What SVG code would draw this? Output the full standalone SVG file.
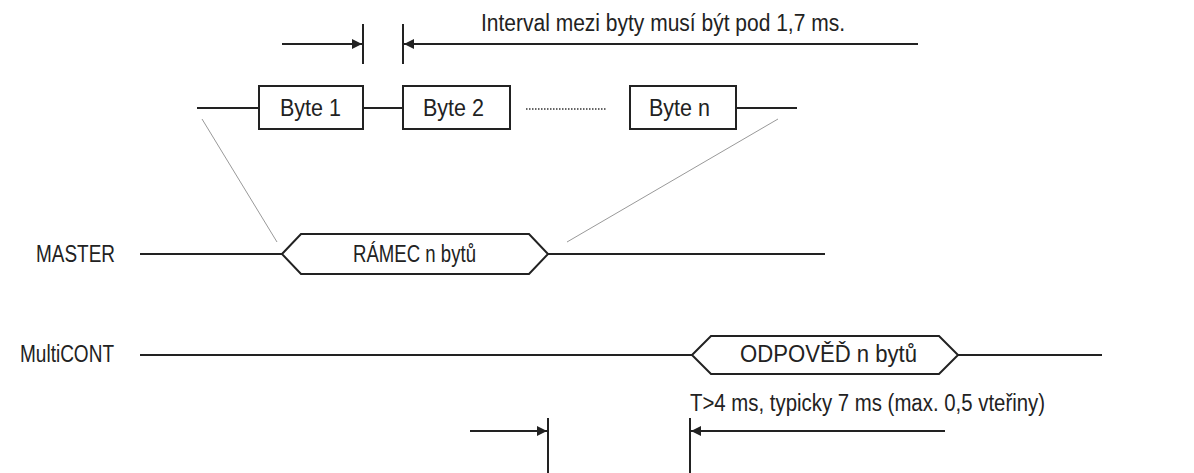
<svg xmlns="http://www.w3.org/2000/svg" width="1194" height="473" viewBox="0 0 1194 473">
<style>
.ln{stroke:#222;stroke-width:2;fill:none}
.box{stroke:#222;stroke-width:2;fill:#fff}
.thin{stroke:#999;stroke-width:1;fill:none}
.dot{stroke:#333;stroke-width:1.5;stroke-dasharray:1.5 1.5;fill:none}
text{font-family:"Liberation Sans Narrow","Liberation Sans",Arial,sans-serif;font-size:23px;fill:#222}
</style>
<defs>
<marker id="ar" viewBox="0 0 10 10" refX="10" refY="5" markerWidth="10" markerHeight="10" markerUnits="userSpaceOnUse" orient="auto">
<path d="M0,0 L10,5 L0,10 z" fill="#222"/>
</marker>
</defs>
<g id="connectors">
<line class="ln" x1="282" y1="44" x2="362" y2="44" marker-end="url(#ar)"/>
<line class="ln" x1="918" y1="44" x2="404" y2="44" marker-end="url(#ar)"/>
<line class="ln" x1="363" y1="24" x2="363" y2="64"/>
<line class="ln" x1="403" y1="24" x2="403" y2="64"/>
<line class="ln" x1="197" y1="108" x2="259" y2="108"/>
<line class="ln" x1="363" y1="108" x2="403" y2="108"/>
<line class="ln" x1="736" y1="108" x2="797" y2="108"/>
<line class="dot" x1="526" y1="109" x2="607" y2="109"/>
<line class="thin" x1="202" y1="119" x2="277" y2="242"/>
<line class="thin" x1="778" y1="119" x2="567" y2="242"/>
<line class="ln" x1="140" y1="254" x2="282" y2="254"/>
<line class="ln" x1="548" y1="254" x2="825" y2="254"/>
<line class="ln" x1="140" y1="355" x2="692" y2="355"/>
<line class="ln" x1="958" y1="355" x2="1102" y2="355"/>
<line class="ln" x1="470" y1="431" x2="547" y2="431" marker-end="url(#ar)"/>
<line class="ln" x1="945" y1="431" x2="691" y2="431" marker-end="url(#ar)"/>
<line class="ln" x1="548" y1="418" x2="548" y2="473"/>
<line class="ln" x1="690" y1="418" x2="690" y2="473"/>
</g>
<g id="interval-label"><text x="481" y="31" textLength="364" lengthAdjust="spacingAndGlyphs">Interval mezi byty musí být pod 1,7 ms.</text></g>
<g id="byte1"><rect class="box" x="259" y="86" width="104" height="43"/><text x="280" y="116" textLength="61" lengthAdjust="spacingAndGlyphs">Byte 1</text></g>
<g id="byte2"><rect class="box" x="403" y="86" width="107" height="43"/><text x="423" y="116" textLength="61" lengthAdjust="spacingAndGlyphs">Byte 2</text></g>
<g id="byten"><rect class="box" x="630" y="86" width="106" height="43"/><text x="649" y="116" textLength="61" lengthAdjust="spacingAndGlyphs">Byte n</text></g>
<g id="master-label"><text x="36" y="262" textLength="79" lengthAdjust="spacingAndGlyphs">MASTER</text></g>
<g id="ramec"><path class="box" d="M282,254 L301,234 L529,234 L548,254 L529,274 L301,274 Z"/><text x="353" y="262" textLength="123" lengthAdjust="spacingAndGlyphs">RÁMEC n bytů</text></g>
<g id="multicont-label"><text x="20" y="362" textLength="94" lengthAdjust="spacingAndGlyphs">MultiCONT</text></g>
<g id="odpoved"><path class="box" d="M692,355 L711,336 L939,336 L958,355 L939,374 L711,374 Z"/><text x="740" y="362" textLength="177" lengthAdjust="spacingAndGlyphs">ODPOVĚĎ n bytů</text></g>
<g id="timing-label"><text x="690" y="411" textLength="355" lengthAdjust="spacingAndGlyphs">T&gt;4 ms, typicky 7 ms (max. 0,5 vteřiny)</text></g>
</svg>
